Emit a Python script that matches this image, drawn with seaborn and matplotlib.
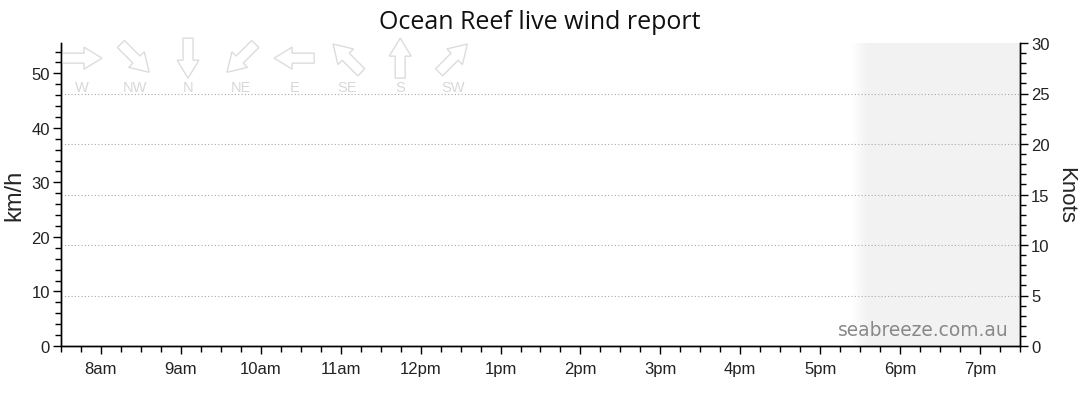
import matplotlib
matplotlib.use("Agg")
import matplotlib.pyplot as plt
import matplotlib.transforms as mtransforms
from matplotlib.patches import Polygon
from matplotlib.ticker import MultipleLocator
import numpy as np
import seaborn as sns

# Data: no readings reported yet today
wind_time = []      # hours of day
wind_kmh = []       # average wind, km/h
gust_kmh = []       # gusts, km/h

hour_ticks = [8, 9, 10, 11, 12, 13, 14, 15, 16, 17, 18, 19]
hour_labels = ['8am', '9am', '10am', '11am', '12pm', '1pm', '2pm', '3pm',
               '4pm', '5pm', '6pm', '7pm']
x_start, x_end = 7.5, 19.5
dark_start, dark_full = 17.4, 17.6   # after sunset shading

dir_labels = ['W', 'NW', 'N', 'NE', 'E', 'SE', 'S', 'SW']
dir_bearings = [270, 315, 0, 45, 90, 135, 180, 225]

KMH_PER_KNOT = 1.852
knots_max = 30

sns.set_style("white")
plt.rcParams['font.family'] = ['Liberation Sans', 'DejaVu Sans']

fig = plt.figure(figsize=(10.8, 4.14), dpi=100)
ax = fig.add_axes([61 / 1080, 67 / 414, 959 / 1080, 303 / 414])
ax2 = ax.twinx()

sns.lineplot(x=np.array(wind_time, dtype=float), y=np.array(wind_kmh, dtype=float), ax=ax)

ax.set_xlim(x_start, x_end)
ax.set_ylim(0, knots_max * KMH_PER_KNOT)
ax2.set_ylim(0, knots_max)

# after sunset shading with a soft edge
grad = np.linspace(0, 1, 64).reshape(1, -1)
ax.imshow(grad, extent=(dark_start, dark_full, 0, knots_max * KMH_PER_KNOT),
          aspect='auto', cmap=matplotlib.colors.LinearSegmentedColormap.from_list(
              'sh', ['#ffffff', '#f2f2f2']), zorder=0)
ax.axvspan(dark_full, x_end, color='#f2f2f2', lw=0, zorder=0)

# spines
for a in (ax, ax2):
    a.spines['top'].set_visible(False)
    for s in ('left', 'right', 'bottom'):
        a.spines[s].set_color('black')
        a.spines[s].set_linewidth(1)

ax.set_xticks(hour_ticks)
ax.set_xticklabels(hour_labels)
ax.xaxis.set_minor_locator(MultipleLocator(0.25))
ax.yaxis.set_major_locator(MultipleLocator(10))
ax.yaxis.set_minor_locator(MultipleLocator(2))
ax2.yaxis.set_major_locator(MultipleLocator(5))
ax2.yaxis.set_minor_locator(MultipleLocator(1))

ax.tick_params(axis='both', which='major', direction='out', length=6, width=1,
               color='black', labelsize=12, labelcolor='#222222', pad=2,
               bottom=True, left=True)
ax.tick_params(axis='both', which='minor', direction='out', length=4, width=1,
               color='black', bottom=True, left=True)
ax.tick_params(axis='x', pad=5)
ax2.tick_params(axis='y', which='major', direction='out', length=6, width=1,
                color='black', labelsize=12, labelcolor='#222222', pad=2, right=True)
ax2.tick_params(axis='y', which='minor', direction='out', length=4, width=1,
                color='black', right=True)

# grid in knots
for k in range(5, knots_max, 5):
    ax2.axhline(k, color='#aaaaaa', lw=0.8, ls=(0, (1, 2)), zorder=1)

ax.set_ylabel('km/h', fontsize=17, labelpad=4)
ax2.set_ylabel('Knots', fontsize=16, rotation=270, labelpad=19)

fig.suptitle('Ocean Reef live wind report', fontsize=18, y=0.975,
             family=['Open Sans', 'DejaVu Sans'], color='#111111')

ax.text(0.988, 0.022, 'seabreeze.com.au', transform=ax.transAxes, ha='right',
        va='bottom', fontsize=13.4, color='#888888', family=['DejaVu Sans'])

# wind direction legend arrows
arrow_shape = np.array([[-20, -5], [2, -5], [2, -11], [20, 0],
                        [2, 11], [2, 5], [-20, 5]])
for i, (lab, b) in enumerate(zip(dir_labels, dir_bearings)):
    cx = 0.0219 + i * 0.0553
    px, py = ax.transAxes.transform((cx, 0.95))
    ang = 90 - (b + 180)
    tr = mtransforms.Affine2D().rotate_deg(ang).translate(px, py)
    poly = Polygon(arrow_shape, closed=True, facecolor='white',
                   edgecolor='#dcdcdc', lw=1, transform=tr, zorder=5,
                   clip_on=False)
    ax.add_artist(poly)
    ax.text(cx, 0.855, lab, transform=ax.transAxes, ha='center', va='center',
            fontsize=10.5, color='#d8d8d8', zorder=5)

fig.savefig('out.png', dpi=100)
